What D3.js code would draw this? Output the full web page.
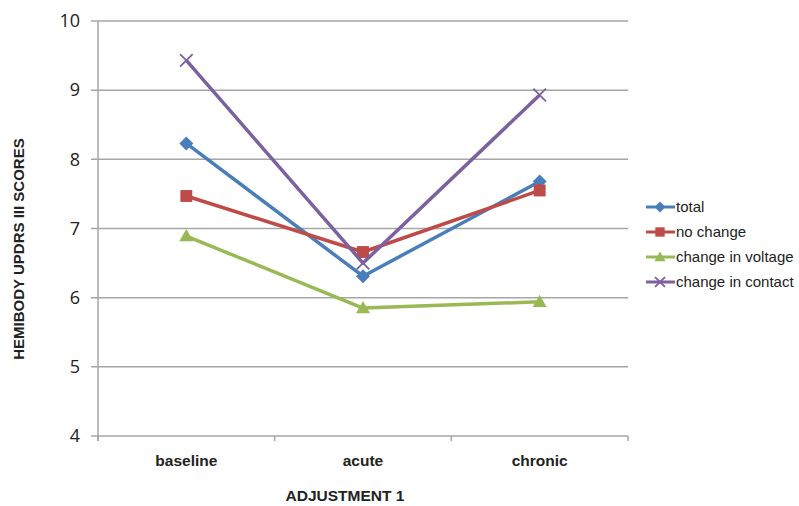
<!DOCTYPE html>
<html><head><meta charset="utf-8">
<script src="https://cdn.jsdelivr.net/npm/d3@7"></script>
<style>body{margin:0;background:#fff}svg{display:block}</style>
</head><body>
<svg id="c" width="799" height="506"></svg>
<script>
const categories = ["baseline", "acute", "chronic"];
const seriesNames = ["total", "no change", "change in voltage", "change in contact"];
const totalVals = [8.23, 6.31, 7.68];
const noChangeVals = [7.47, 6.66, 7.55];
const voltageVals = [6.89, 5.85, 5.94];
const contactVals = [9.43, 6.5, 8.93];
const yTicks = [4, 5, 6, 7, 8, 9, 10];
const colors = ["#4a7ebb", "#be4b48", "#98b954", "#7d60a0"];
const markers = ["diamond", "square", "triangle", "x"];

const series = [totalVals, noChangeVals, voltageVals, contactVals].map((v, i) => ({name: seriesNames[i], values: v, color: colors[i], marker: markers[i]}));

const svg = d3.select("#c");
const L = 98, R = 628, T = 21, B = 436;
const x = d3.scaleBand().domain(categories).range([L, R]);
const y = d3.scaleLinear().domain([4, 10]).range([B, T]);

svg.append("g").selectAll("line").data(yTicks).join("line")
  .attr("x1", L - 7).attr("x2", R).attr("y1", d => y(d)).attr("y2", d => y(d))
  .attr("stroke", "#a6a6a6").attr("stroke-width", 1.5);
svg.append("line").attr("x1", L).attr("x2", L).attr("y1", T).attr("y2", B + 5)
  .attr("stroke", "#a6a6a6").attr("stroke-width", 1.5);
const bounds = [L, ...categories.map(c => x(c) + x.bandwidth())];
svg.append("g").selectAll("line").data(bounds).join("line")
  .attr("x1", d => d).attr("x2", d => d).attr("y1", B).attr("y2", B + 5)
  .attr("stroke", "#a6a6a6").attr("stroke-width", 1.5);

svg.append("g").selectAll("text").data(yTicks).join("text")
  .attr("x", 80).attr("y", d => y(d)).attr("dy", "0.35em")
  .attr("text-anchor", "end").attr("font-family", "Open Sans, DejaVu Sans, sans-serif")
  .attr("font-size", 18).attr("fill", "#222").text(d => d);

svg.append("g").selectAll("text").data(categories).join("text")
  .attr("x", d => x(d) + x.bandwidth() / 2).attr("y", 466)
  .attr("text-anchor", "middle").attr("font-family", "Liberation Sans, Arial, sans-serif")
  .attr("font-weight", "bold").attr("font-size", 15.5).attr("fill", "#222").text(d => d);

svg.append("text").attr("x", 345).attr("y", 501).attr("text-anchor", "middle")
  .attr("font-family", "Liberation Sans, Arial, sans-serif").attr("font-weight", "bold")
  .attr("font-size", 15.5).attr("fill", "#222").text("ADJUSTMENT 1");
svg.append("text").attr("transform", "translate(24,249) rotate(-90)").attr("text-anchor", "middle")
  .attr("font-family", "Liberation Sans, Arial, sans-serif").attr("font-weight", "bold")
  .attr("font-size", 15).attr("fill", "#222").text("HEMIBODY UPDRS III SCORES");

function drawMarker(g, type, cx, cy, color, s) {
  if (type === "diamond") {
    g.append("path").attr("d", `M${cx},${cy - s}L${cx + s},${cy}L${cx},${cy + s}L${cx - s},${cy}Z`).attr("fill", color);
  } else if (type === "square") {
    g.append("rect").attr("x", cx - s * 0.85).attr("y", cy - s * 0.85).attr("width", s * 1.7).attr("height", s * 1.7).attr("fill", color);
  } else if (type === "triangle") {
    g.append("path").attr("d", `M${cx},${cy - s}L${cx + s},${cy + s * 0.75}L${cx - s},${cy + s * 0.75}Z`).attr("fill", color);
  } else {
    const k = s * 0.9;
    g.append("path").attr("d", `M${cx - k},${cy - k}L${cx + k},${cy + k}M${cx - k},${cy + k}L${cx + k},${cy - k}`)
      .attr("stroke", color).attr("stroke-width", 1.8).attr("fill", "none");
  }
}

const line = d3.line().x((d, i) => x(categories[i]) + x.bandwidth() / 2).y(d => y(d));
series.forEach(s => {
  const g = svg.append("g");
  g.append("path").attr("d", line(s.values)).attr("fill", "none").attr("stroke", s.color).attr("stroke-width", 3.5).attr("stroke-linejoin", "round");
  s.values.forEach((v, i) => drawMarker(g, s.marker, x(categories[i]) + x.bandwidth() / 2, y(v), s.color, 7));
});

const lg = svg.append("g");
series.forEach((s, i) => {
  const yy = 207 + i * 25;
  lg.append("line").attr("x1", 646).attr("x2", 675).attr("y1", yy).attr("y2", yy).attr("stroke", s.color).attr("stroke-width", 3);
  drawMarker(lg, s.marker, 660, yy, s.color, 5.5);
  lg.append("text").attr("x", 676).attr("y", yy).attr("dy", "0.35em")
    .attr("font-family", "Liberation Sans, Arial, sans-serif").attr("font-size", 15).attr("fill", "#222").text(s.name);
});
</script>
</body></html>
